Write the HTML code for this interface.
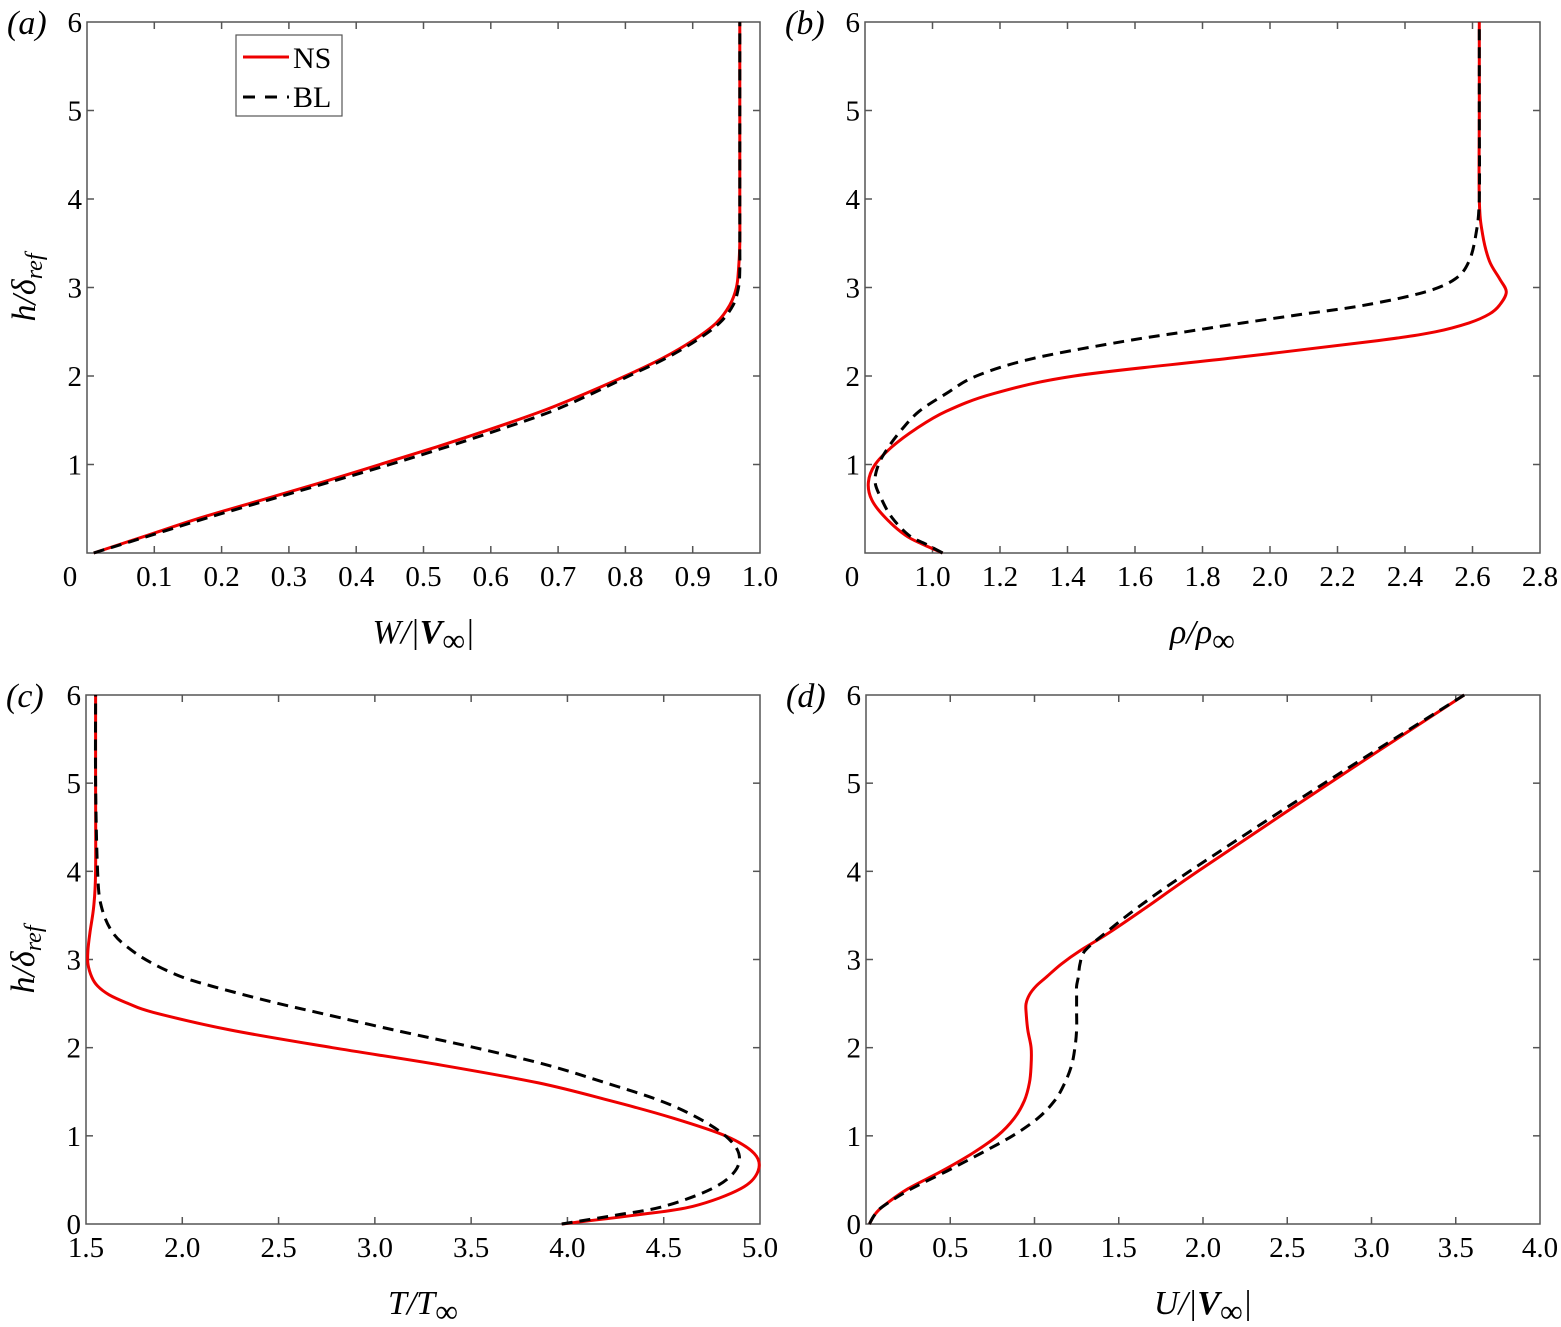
<!DOCTYPE html>
<html><head><meta charset="utf-8">
<style>
html,body{margin:0;padding:0;background:#fff;}
svg{display:block;}
text{font-family:"Liberation Serif",serif;fill:#000;}
</style></head>
<body>
<svg id="fig" width="1561" height="1327" viewBox="0 0 1561 1327" xmlns="http://www.w3.org/2000/svg"></svg>
<script>
const hA=[0,0.2,0.4,0.6,0.8,1.0,1.2,1.4,1.6,1.8,2.0,2.2,2.4,2.6,2.8,3.0,3.2,3.5,4,5,6];
const nsW=[0.01,0.09,0.17,0.26,0.35,0.435,0.52,0.60,0.675,0.74,0.80,0.855,0.90,0.935,0.955,0.965,0.968,0.97,0.97,0.97,0.97];
const blW=[0.01,0.095,0.18,0.27,0.36,0.45,0.535,0.615,0.69,0.75,0.805,0.86,0.905,0.94,0.96,0.968,0.97,0.97,0.97,0.97,0.97];
const hB=[0,0.1,0.2,0.4,0.6,0.8,1.0,1.2,1.4,1.6,1.8,2.0,2.2,2.4,2.5,2.6,2.7,2.8,2.95,3.1,3.3,3.6,4,5,6];
const nsRho=[1.03,0.97,0.92,0.86,0.82,0.81,0.83,0.88,0.95,1.04,1.18,1.42,1.88,2.32,2.49,2.59,2.65,2.68,2.70,2.68,2.65,2.63,2.62,2.62,2.62];
const blRho=[1.03,0.98,0.93,0.88,0.85,0.83,0.84,0.87,0.91,0.96,1.04,1.13,1.30,1.58,1.75,1.92,2.10,2.28,2.46,2.55,2.59,2.61,2.62,2.62,2.62];
const nsT=[3.97,4.35,4.65,4.9,4.99,4.97,4.82,4.55,4.22,3.85,3.35,2.78,2.25,1.85,1.72,1.62,1.56,1.53,1.51,1.51,1.52,1.54,1.55,1.55,1.55];
const blT=[3.97,4.25,4.5,4.75,4.87,4.89,4.82,4.68,4.48,4.2,3.9,3.52,3.1,2.7,2.5,2.32,2.15,2.0,1.85,1.74,1.64,1.58,1.56,1.55,1.55];
const nsU=[0.02,0.05,0.1,0.25,0.45,0.63,0.78,0.88,0.94,0.97,0.98,0.98,0.96,0.95,0.95,0.97,1.01,1.07,1.16,1.27,1.44,1.67,1.97,2.75,3.55];
const blU=[0.02,0.05,0.1,0.27,0.48,0.68,0.87,1.02,1.12,1.18,1.22,1.24,1.25,1.25,1.25,1.25,1.25,1.26,1.27,1.30,1.42,1.62,1.92,2.72,3.55];
const xTicksA=["0","0.1","0.2","0.3","0.4","0.5","0.6","0.7","0.8","0.9","1.0"];
const xTicksB=["0","1.0","1.2","1.4","1.6","1.8","2.0","2.2","2.4","2.6","2.8"];
const xTicksC=["1.5","2.0","2.5","3.0","3.5","4.0","4.5","5.0"];
const xTicksD=["0","0.5","1.0","1.5","2.0","2.5","3.0","3.5","4.0"];

const NS="http://www.w3.org/2000/svg";
const svg=document.getElementById('fig');
function mk(tag,attrs,parent){const e=document.createElementNS(NS,tag);for(const k in attrs)e.setAttribute(k,attrs[k]);(parent||svg).appendChild(e);return e;}
function path(pts){
  let d=`M${pts[0][0].toFixed(1)},${pts[0][1].toFixed(1)}`;
  for(let i=0;i<pts.length-1;i++){
    const p0=pts[Math.max(0,i-1)],p1=pts[i],p2=pts[i+1],p3=pts[Math.min(pts.length-1,i+2)];
    const c1=[p1[0]+(p2[0]-p0[0])/6,p1[1]+(p2[1]-p0[1])/6],c2=[p2[0]-(p3[0]-p1[0])/6,p2[1]-(p3[1]-p1[1])/6];
    d+=`C${c1[0].toFixed(1)},${c1[1].toFixed(1)} ${c2[0].toFixed(1)},${c2[1].toFixed(1)} ${p2[0].toFixed(1)},${p2[1].toFixed(1)}`;
  }
  return d;
}
function panel(o){
  const g=mk('g',{});
  
  
  const X=v=>o.L+(v-o.x0)/(o.x1-o.x0)*(o.R-o.L);
  const Y=v=>o.B-(v/6)*(o.B-o.T);
  const frame=mk('rect',{x:o.L,y:o.T,width:o.R-o.L,height:o.B-o.T,fill:'none',stroke:'#555','stroke-width':1.5},g);
  
  
  o.xt.forEach((lab,i)=>{
    const xv=X(o.x0+i*o.xs);
    if(i>0&&i<o.xt.length-1){mk('line',{x1:xv,y1:o.B,x2:xv,y2:o.B-7,stroke:'#555','stroke-width':1.5},g);mk('line',{x1:xv,y1:o.T,x2:xv,y2:o.T+7,stroke:'#555','stroke-width':1.5},g);}
    const t=mk('text',{x:xv+(i==0?o.firstOff:0),y:o.B+33,'font-size':29,'text-anchor':'middle'},g);
    t.textContent=lab;
    
    
  });
  for(let v=o.y0;v<=6;v++){
    const yv=Y(v);
    if(v>0&&v<6){mk('line',{x1:o.L,y1:yv,x2:o.L+7,y2:yv,stroke:'#555','stroke-width':1.5},g);mk('line',{x1:o.R,y1:yv,x2:o.R-7,y2:yv,stroke:'#555','stroke-width':1.5},g);}
    const t=mk('text',{x:o.L-5,y:yv+10,'font-size':29,'text-anchor':'end'},g);
    t.textContent=String(v);
    
    
  }
  const pl=mk('text',{x:o.L-80,y:o.T+12,'font-size':34,'font-style':'italic'},g);
  pl.innerHTML='('+o.id+')';
  
  
  const xt=mk('text',{x:(o.L+o.R)/2,y:o.B+90,'font-size':34,'text-anchor':'middle','font-style':'italic'},g);
  xt.innerHTML=o.xlabel;
  
  
  if(o.ylab){
    const yt=mk('text',{transform:`translate(${o.L-52},${(o.T+o.B)/2}) rotate(-90)`,'font-size':34,'text-anchor':'middle','font-style':'italic'},g);
    yt.innerHTML='h/δ<tspan font-size="24" dy="7">ref</tspan>';
    
    
  }
  const ns=mk('path',{d:path(o.hs.map((h,i)=>[X(o.ns[i]),Y(h)])),fill:'none',stroke:'#e00','stroke-width':3},g);
  const bl=mk('path',{d:path(o.hs.map((h,i)=>[X(o.bl[i]),Y(h)])),fill:'none',stroke:'#000','stroke-width':3,'stroke-dasharray':'11,7'},g);
  
  
  
  
}
panel({id:'a',L:87,R:760,T:22,B:553,x0:0,x1:1,xs:0.1,xt:xTicksA,firstOff:-17,y0:1,hs:hA,ns:nsW,bl:blW,ylab:true,xlabel:'W/|<tspan font-weight="bold">V</tspan><tspan font-style="normal" dy="8" font-size="32">∞</tspan><tspan dy="-8">|</tspan>'});
panel({id:'b',L:865,R:1540,T:22,B:553,x0:0.8,x1:2.8,xs:0.2,xt:xTicksB,firstOff:-13,y0:1,hs:hB,ns:nsRho,bl:blRho,ylab:false,xlabel:'ρ/ρ<tspan font-style="normal" dy="8" font-size="32">∞</tspan>'});
panel({id:'c',L:86,R:760,T:695,B:1224,x0:1.5,x1:5,xs:0.5,xt:xTicksC,firstOff:0,y0:0,hs:hB,ns:nsT,bl:blT,ylab:true,xlabel:'T/T<tspan font-style="normal" dy="8" font-size="32">∞</tspan>'});
panel({id:'d',L:866,R:1540,T:695,B:1224,x0:0,x1:4,xs:0.5,xt:xTicksD,firstOff:0,y0:0,hs:hB,ns:nsU,bl:blU,ylab:false,xlabel:'U/|<tspan font-weight="bold">V</tspan><tspan font-style="normal" dy="8" font-size="32">∞</tspan><tspan dy="-8">|</tspan>'});
const lg=mk('g',{});


mk('rect',{x:236,y:35,width:106,height:81,fill:'#fff',stroke:'#555','stroke-width':1.2},lg);
mk('line',{x1:243,y1:57,x2:289,y2:57,stroke:'#e00','stroke-width':3},lg);
mk('line',{x1:243,y1:97,x2:289,y2:97,stroke:'#000','stroke-width':3,'stroke-dasharray':'12,10'},lg);
const t1=mk('text',{x:293,y:68,'font-size':30},lg);t1.textContent='NS';


const t2=mk('text',{x:293,y:107,'font-size':30},lg);t2.textContent='BL';


</script>
</body></html>
